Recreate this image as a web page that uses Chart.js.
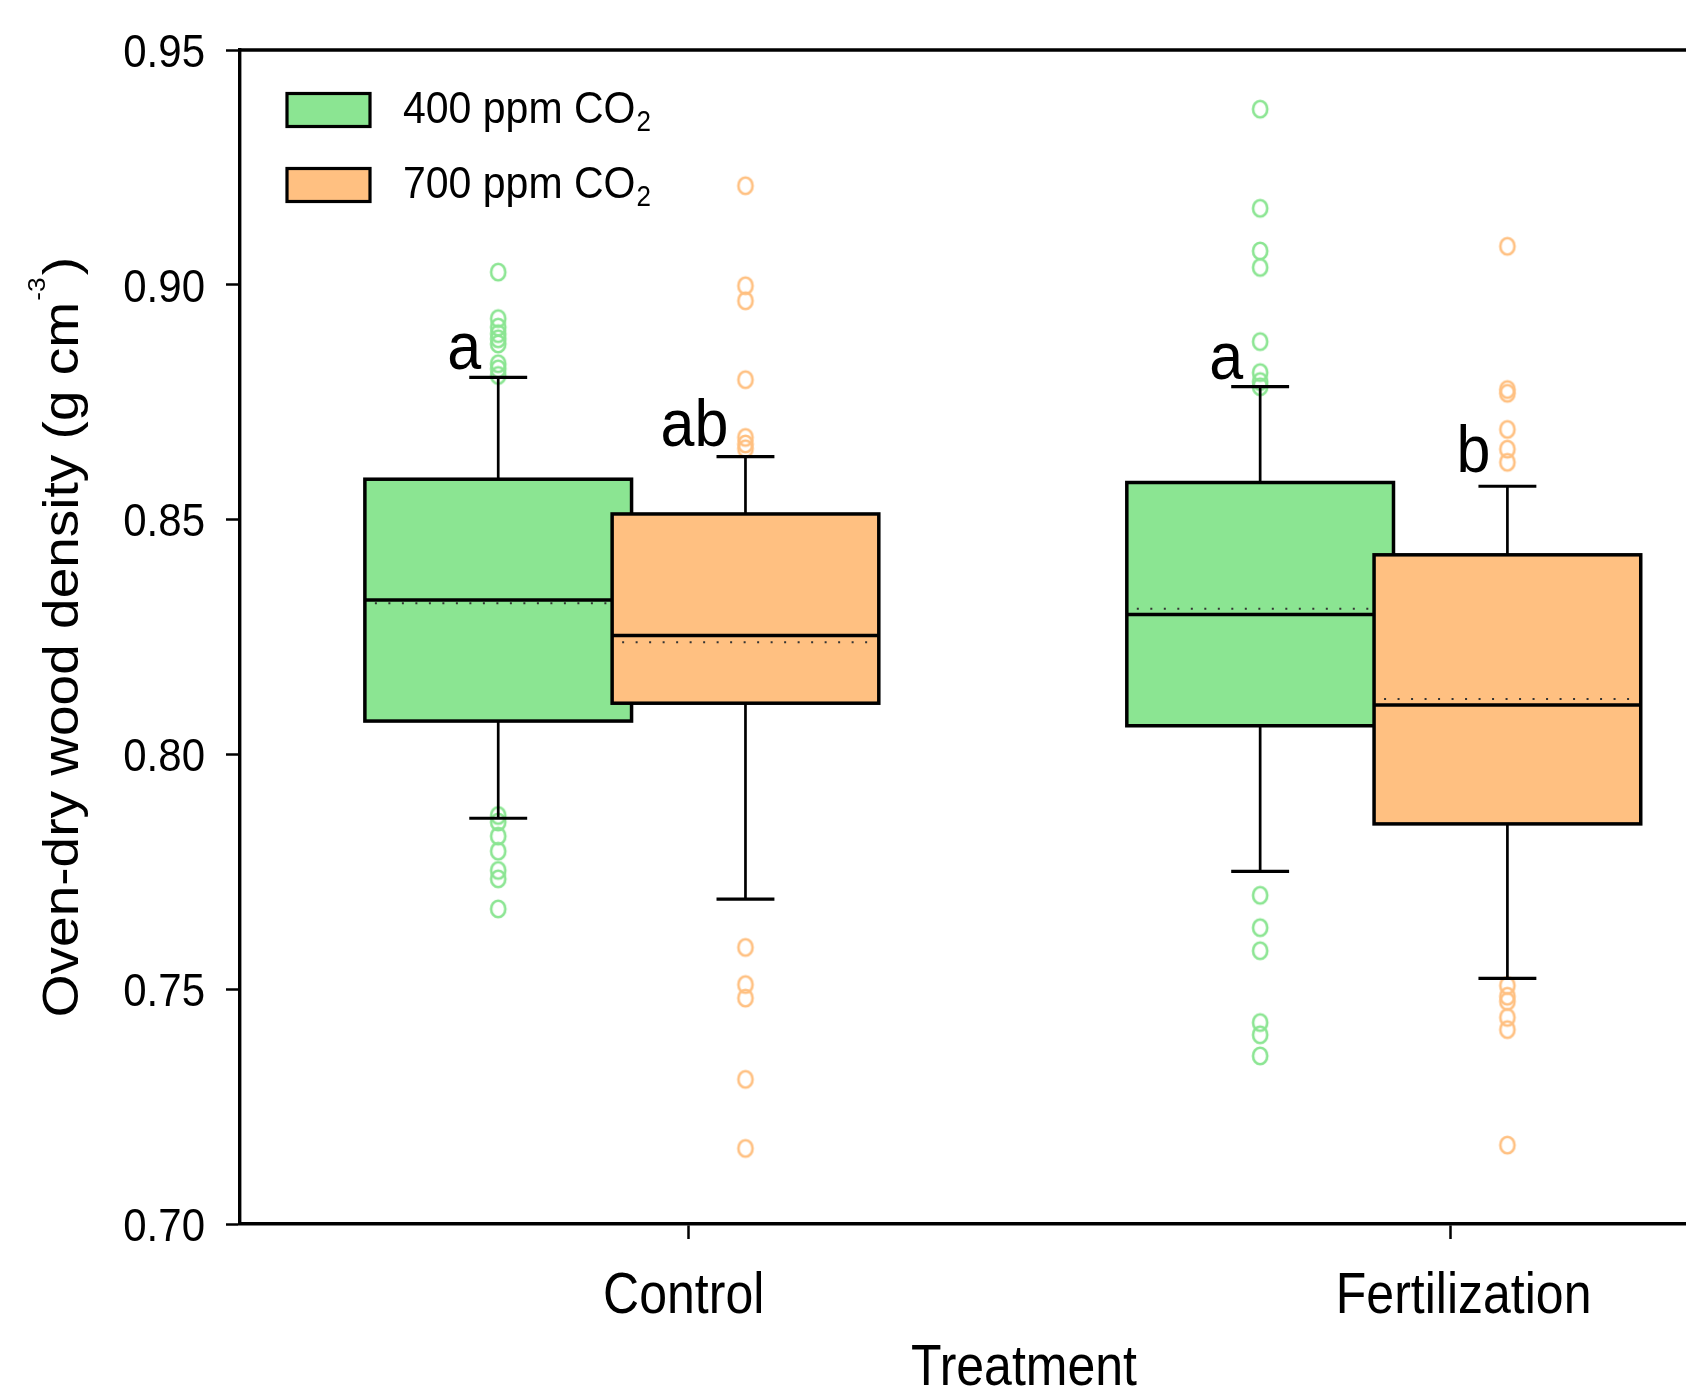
<!DOCTYPE html>
<html>
<head>
<meta charset="utf-8">
<title>Oven-dry wood density</title>
<script src="https://cdn.jsdelivr.net/npm/chart.js@4.4.1/dist/chart.umd.min.js"></script>
<style>
  html, body { margin: 0; padding: 0; background: #fff; overflow: hidden; }
  #wrap { width: 1686px; height: 1393px; }
</style>
</head>
<body>
<div id="wrap"><canvas id="densityChart" width="1686" height="1393"></canvas></div>
<script>
// categories, series, ticks
const treatments = ['Control', 'Fertilization'];
const co2Levels = ['400 ppm CO2', '700 ppm CO2'];
const yTicks = [0.70, 0.75, 0.80, 0.85, 0.90, 0.95];

// box statistics (one value per treatment)
const whiskerLow400 = [0.7864, 0.7751];
const q1_400 = [0.8071, 0.8061];
const median400 = [0.8329, 0.8298];
const mean400 = [0.8322, 0.8310];
const q3_400 = [0.8586, 0.8579];
const whiskerHigh400 = [0.8803, 0.8783];

const whiskerLow700 = [0.7692, 0.7523];
const q1_700 = [0.8109, 0.7852];
const median700 = [0.8253, 0.8105];
const mean700 = [0.8239, 0.8118];
const q3_700 = [0.8512, 0.8425];
const whiskerHigh700 = [0.8634, 0.8571];

// outliers
const outliers400 = [
    [0.9027, 0.8928, 0.8910, 0.8896, 0.8885, 0.8874, 0.8832, 0.8821, 0.8807,
     0.7870, 0.7856, 0.7826, 0.7794, 0.7753, 0.7735, 0.7671],
    [0.9374, 0.9163, 0.9072, 0.9037, 0.8879, 0.8813, 0.8794, 0.8783,
     0.7700, 0.7631, 0.7582, 0.7429, 0.7403, 0.7358]
];
const outliers700 = [
    [0.9211, 0.8998, 0.8966, 0.8798, 0.8675, 0.8661, 0.8651,
     0.7589, 0.7510, 0.7481, 0.7308, 0.7161],
    [0.9082, 0.8777, 0.8769, 0.8692, 0.8650, 0.8622,
     0.7508, 0.7485, 0.7474, 0.7440, 0.7414, 0.7168]
];

// significance letters
const letters400 = ['a', 'a'];
const letters700 = ['ab', 'b'];
const letterY400 = [0.8820, 0.8800];
const letterY700 = [0.8656, 0.8602];

// layout / style
const FONT = "'Liberation Sans', Arial, Helvetica, sans-serif";
const GREEN = '#8be592';
const ORANGE = '#ffc081';
const tickPos = [1, 2];
const labelShift = [-5, 13];   // px nudge of the category labels
const seriesOffset = [-0.25, 0.0745];
const boxWidth = 0.35;
const capWidth = 0.076;
const xTitleAt = 1.44;
const STRETCH = 1.12;   // the original figure's text is a bit taller than wide

const series = [
    { label: co2Levels[0], color: GREEN, low: whiskerLow400, q1: q1_400, med: median400, mean: mean400,
      q3: q3_400, high: whiskerHigh400, out: outliers400, letters: letters400, letterY: letterY400 },
    { label: co2Levels[1], color: ORANGE, low: whiskerLow700, q1: q1_700, med: median700, mean: mean700,
      q3: q3_700, high: whiskerHigh700, out: outliers700, letters: letters700, letterY: letterY700 }
];

// slightly tall open circle used as point style
function ovalMarker(color) {
    const c = document.createElement('canvas');
    c.width = 22; c.height = 24;
    const g = c.getContext('2d');
    g.strokeStyle = color;
    g.lineWidth = 2.6;
    g.beginPath();
    g.ellipse(11, 12, 7.1, 8.3, 0, 0, Math.PI * 2);
    g.stroke();
    return c;
}

function hline(ctx, x1, x2, y) {
    ctx.beginPath(); ctx.moveTo(x1, y); ctx.lineTo(x2, y); ctx.stroke();
}

function stretchedText(ctx, text, x, y, k) {
    ctx.save();
    ctx.translate(x, y);
    ctx.scale(1, k);
    ctx.fillText(text, 0, 0);
    ctx.restore();
}

const boxPlugin = {
    id: 'boxes',
    beforeDatasetsDraw(chart) {
        const { ctx, scales: { x, y } } = chart;
        ctx.save();
        treatments.forEach((t, i) => {
            series.forEach((s, si) => {
                const cx = tickPos[i] + seriesOffset[si];
                const left = x.getPixelForValue(cx - boxWidth / 2);
                const right = x.getPixelForValue(cx + boxWidth / 2);
                const top = y.getPixelForValue(s.q3[i]);
                const bottom = y.getPixelForValue(s.q1[i]);
                ctx.fillStyle = s.color;
                ctx.fillRect(left, top, right - left, bottom - top);
                // mean (dotted)
                ctx.strokeStyle = '#333';
                ctx.lineWidth = 2;
                ctx.setLineDash([2, 11.5]);
                hline(ctx, left + 10, right - 4, y.getPixelForValue(s.mean[i]));
                ctx.setLineDash([]);
                // median
                ctx.strokeStyle = '#000';
                ctx.lineWidth = 3.5;
                hline(ctx, left, right, y.getPixelForValue(s.med[i]));
                ctx.strokeRect(left, top, right - left, bottom - top);
            });
        });
        ctx.restore();
    },
    afterDatasetsDraw(chart) {
        const { ctx, scales: { x, y } } = chart;
        ctx.save();
        ctx.strokeStyle = '#000';
        treatments.forEach((t, i) => {
            series.forEach((s, si) => {
                const cx = tickPos[i] + seriesOffset[si];
                const px = x.getPixelForValue(cx);
                const c1 = x.getPixelForValue(cx - capWidth / 2);
                const c2 = x.getPixelForValue(cx + capWidth / 2);
                ctx.lineWidth = 2.7;
                ctx.beginPath();
                ctx.moveTo(px, y.getPixelForValue(s.q3[i]));
                ctx.lineTo(px, y.getPixelForValue(s.high[i]));
                ctx.moveTo(px, y.getPixelForValue(s.q1[i]));
                ctx.lineTo(px, y.getPixelForValue(s.low[i]));
                ctx.stroke();
                ctx.lineWidth = 3.2;
                hline(ctx, c1, c2, y.getPixelForValue(s.high[i]));
                hline(ctx, c1, c2, y.getPixelForValue(s.low[i]));
                // letter
                ctx.fillStyle = '#000';
                ctx.font = '61px ' + FONT;
                ctx.textAlign = 'right';
                ctx.textBaseline = 'alphabetic';
                stretchedText(ctx, s.letters[i], px - 17, y.getPixelForValue(s.letterY[i]), 1.08);
            });
        });
        ctx.restore();
    },
    afterDraw(chart) {
        const { ctx, chartArea: area, scales: { x, y } } = chart;
        ctx.save();
        // top frame line
        ctx.strokeStyle = '#000';
        ctx.lineWidth = 3.4;
        hline(ctx, area.left - 1.7, area.right, area.top);

        // y tick labels
        ctx.fillStyle = '#000';
        ctx.textAlign = 'right';
        ctx.textBaseline = 'alphabetic';
        ctx.font = '42px ' + FONT;
        yTicks.forEach(v => {
            stretchedText(ctx, v.toFixed(2), area.left - 35, y.getPixelForValue(v) + 16.8, STRETCH);
        });

        // legend
        series.forEach((s, si) => {
            const top = area.top + 43.5 + si * 75;
            ctx.fillStyle = s.color;
            ctx.fillRect(area.left + 47, top, 83, 33);
            ctx.lineWidth = 3.2;
            ctx.strokeRect(area.left + 47, top, 83, 33);
            ctx.fillStyle = '#000';
            ctx.textAlign = 'left';
            ctx.textBaseline = 'alphabetic';
            ctx.font = '41px ' + FONT;
            const main = s.label.slice(0, -1);
            const base = top + 29;
            stretchedText(ctx, main, area.left + 163, base, 1.1);
            const w = ctx.measureText(main).width;
            ctx.font = '26px ' + FONT;
            stretchedText(ctx, s.label.slice(-1), area.left + 163 + w + 1, base + 8, 1.1);
        });

        // x tick labels and title
        ctx.fillStyle = '#000';
        ctx.textAlign = 'center';
        ctx.textBaseline = 'alphabetic';
        ctx.font = '50px ' + FONT;
        treatments.forEach((t, i) => {
            stretchedText(ctx, t, x.getPixelForValue(tickPos[i]) + labelShift[i], area.bottom + 89, 1.14);
        });
        stretchedText(ctx, 'Treatment', x.getPixelForValue(xTitleAt), area.bottom + 161, 1.14);

        // y title with superscript
        const main = 'Oven-dry wood density (g cm';
        ctx.save();
        ctx.translate(78, (area.top + area.bottom) / 2);
        ctx.scale(1, 1.1);
        ctx.rotate(-Math.PI / 2);
        ctx.textAlign = 'left';
        ctx.font = '50px ' + FONT;
        const w1 = ctx.measureText(main).width;
        const w3 = ctx.measureText(')').width;
        ctx.font = '24px ' + FONT;
        const w2 = ctx.measureText('-3').width;
        const start = -(w1 + w2 + w3 + 3) / 2;
        ctx.font = '50px ' + FONT;
        ctx.fillText(main, start, 0);
        ctx.font = '24px ' + FONT;
        ctx.fillText('-3', start + w1 + 1, -33);
        ctx.font = '50px ' + FONT;
        ctx.fillText(')', start + w1 + w2 + 3, 0);
        ctx.restore();
        ctx.restore();
    }
};

document.addEventListener('DOMContentLoaded', () => {
    Chart.defaults.font.family = FONT;
    Chart.defaults.color = '#000';

    const ctx = document.getElementById('densityChart').getContext('2d');
    new Chart(ctx, {
        type: 'scatter',
        data: {
            datasets: series.map((s, si) => ({
                label: s.label,
                data: treatments.flatMap((t, i) =>
                    s.out[i].map(v => ({ x: tickPos[i] + seriesOffset[si], y: v }))),
                borderColor: s.color,
                backgroundColor: 'rgba(0,0,0,0)',
                pointStyle: ovalMarker(s.color),
                pointRadius: 8,
                pointHoverRadius: 8
            }))
        },
        options: {
            responsive: false,
            animation: false,
            layout: { autoPadding: false, padding: { top: 50, right: 0, bottom: 0, left: 0 } },
            plugins: {
                legend: { display: false },
                tooltip: { enabled: false }
            },
            scales: {
                x: {
                    type: 'linear',
                    min: 0.4111,
                    max: 2.3089,
                    afterBuildTicks: scale => { scale.ticks = tickPos.map(v => ({ value: v })); },
                    afterFit: scale => { scale.height = 169; },
                    ticks: { display: false },
                    grid: { drawOnChartArea: false, drawTicks: true, tickLength: 15, tickColor: '#000', tickWidth: 2.5 },
                    border: { display: true, color: '#000', width: 3.4 }
                },
                y: {
                    min: 0.70,
                    max: 0.95,
                    afterBuildTicks: scale => { scale.ticks = yTicks.map(v => ({ value: v })); },
                    afterFit: scale => { scale.width = 240; },
                    ticks: { display: false },
                    grid: { drawOnChartArea: false, drawTicks: true, tickLength: 14, tickColor: '#000', tickWidth: 2.5 },
                    border: { display: true, color: '#000', width: 3.4 }
                }
            }
        },
        plugins: [boxPlugin]
    });
});
</script>
</body>
</html>
